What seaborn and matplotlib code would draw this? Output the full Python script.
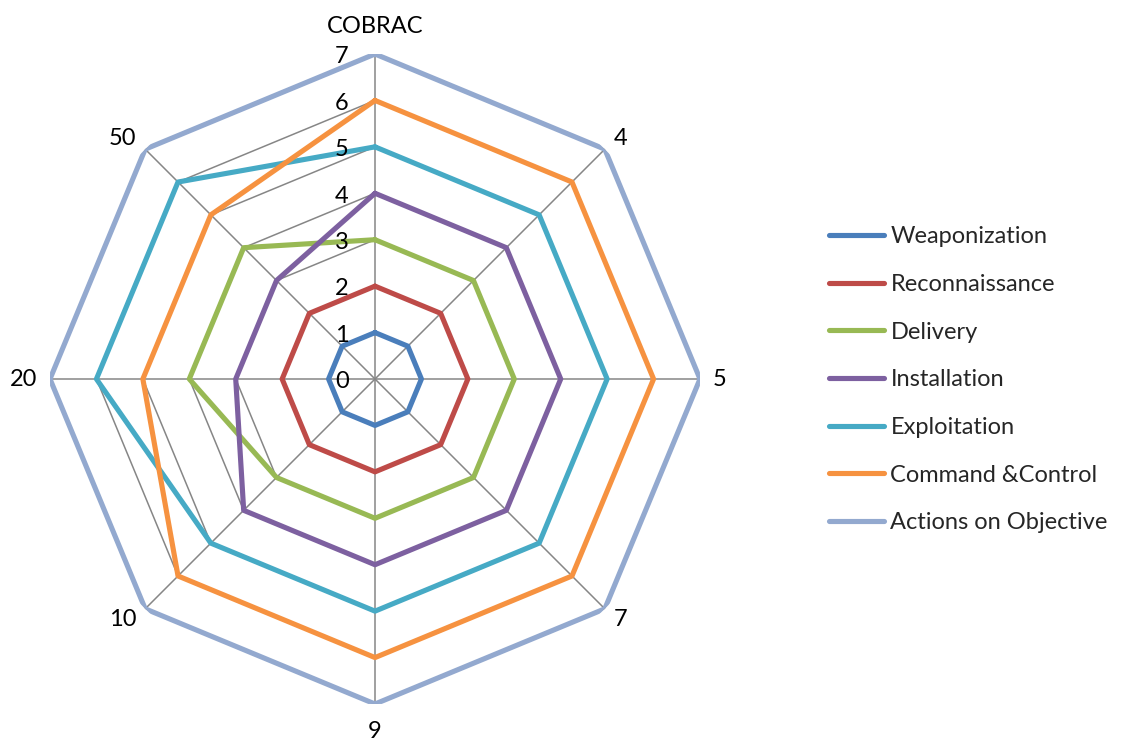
import numpy as np
import pandas as pd
import matplotlib
matplotlib.use('Agg')
import matplotlib.pyplot as plt
import seaborn as sns

categories = ['COBRAC', '4', '5', '7', '9', '10', '20', '50']
series_names = ['Weaponization', 'Reconnaissance', 'Delivery', 'Installation',
                'Exploitation', 'Command &Control', 'Actions on Objective']
weaponization = [1, 1, 1, 1, 1, 1, 1, 1]
reconnaissance = [2, 2, 2, 2, 2, 2, 2, 2]
delivery = [3, 3, 3, 3, 3, 3, 4, 4]
installation = [4, 4, 4, 4, 4, 4, 3, 3]
exploitation = [5, 5, 5, 5, 5, 5, 6, 6]
command_control = [6, 6, 6, 6, 6, 6, 5, 5]
actions = [7, 7, 7, 7, 7, 7, 7, 7]
radial_ticks = [0, 1, 2, 3, 4, 5, 6, 7]
colors = ['#4A7EBB', '#BE4B48', '#98B954', '#7D60A0', '#46AAC5', '#F69240', '#93A9CF']

sns.set_style('white')
plt.rcParams['font.family'] = ['Lato', 'DejaVu Sans']

n = len(categories)
angles = np.linspace(0, 2 * np.pi, n, endpoint=False)

# long-format table, first point repeated to close each polygon
rows = []
all_values = [weaponization, reconnaissance, delivery, installation,
              exploitation, command_control, actions]
for name, vals in zip(series_names, all_values):
    for i in range(n + 1):
        rows.append({'series': name, 'theta': angles[i % n] if i < n else 2 * np.pi,
                     'value': vals[i % n], 'order': i})
df = pd.DataFrame(rows)

fig = plt.figure(figsize=(11.23, 7.49), dpi=100)
ax = fig.add_axes([50 / 1123, 45 / 749, 650 / 1123, 650 / 749], projection='polar')
ax.set_theta_offset(np.pi / 2)
ax.set_theta_direction(-1)
ax.set_ylim(0, radial_ticks[-1])
ax.grid(False)
ax.spines['polar'].set_visible(False)
ax.set_xticks([])
ax.set_yticks([])

# octagon gridlines and spokes
closed = np.append(angles, 2 * np.pi)
for r in radial_ticks[1:]:
    ax.plot(closed, [r] * (n + 1), color='#868686', lw=1.1, zorder=1)
for a in angles:
    ax.plot([a, a], [0, radial_ticks[-1]], color='#868686', lw=1.1, zorder=1)

sns.lineplot(data=df, x='theta', y='value', hue='series', hue_order=series_names,
             palette=colors, sort=False, estimator=None, units='series',
             lw=3.7, ax=ax, zorder=3)
ax.set_xlabel('')
ax.set_ylabel('')

for r in radial_ticks:
    ax.annotate(str(r), xy=(0, r), xytext=(-19, -2), textcoords='offset points',
                ha='right', va='center', fontsize=17, color='black', annotation_clip=False)

for a, lab in zip(angles, categories):
    s, c = np.sin(a), np.cos(a)
    ha = 'left' if s > 0.3 else ('right' if s < -0.3 else 'center')
    va = 'bottom' if c > 0.3 else ('top' if c < -0.3 else 'center')
    dx = 9 * s
    dy = 12 * c if abs(c) > 0.9 else 0
    ax.annotate(lab, xy=(a, radial_ticks[-1]), xytext=(dx, dy), textcoords='offset points',
                ha=ha, va=va, fontsize=17, color='black', annotation_clip=False)

handles, labels = ax.get_legend_handles_labels()
ax.legend(handles, labels, loc='center left', bbox_to_anchor=(829 / 1123, 0.493),
          bbox_transform=fig.transFigure, frameon=False, fontsize=17,
          handlelength=2.35, handletextpad=0.25, labelspacing=1.13,
          borderpad=0, borderaxespad=0)

plt.savefig('out.png', dpi=100)
